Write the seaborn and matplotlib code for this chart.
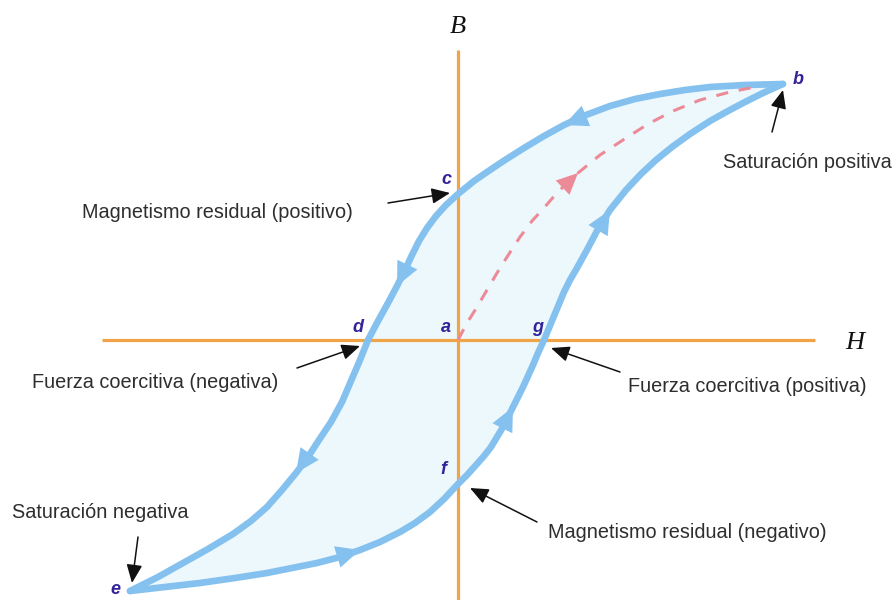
import numpy as np
import matplotlib.pyplot as plt
import seaborn as sns

# Hysteresis loop (1 unit = 100 px, origin at point a)
# descending branch b -> c -> d -> e
upper_h = [3.25, 2.87, 2.52, 2.27, 2.02, 1.77, 1.52, 1.28, 1.06, 0.86, 0.66, 0.47, 0.32,
           0.16, 0.00, -0.12, -0.22, -0.31, -0.39, -0.46, -0.53, -0.61, -0.70, -0.80,
           -0.90, -0.98, -1.07, -1.16, -1.27, -1.39, -1.50, -1.62, -1.76, -1.91, -2.07,
           -2.25, -2.50, -2.75, -3.00, -3.28]
upper_b = [2.56, 2.55, 2.53, 2.50, 2.46, 2.41, 2.34, 2.25, 2.15, 2.04, 1.92, 1.80, 1.70,
           1.59, 1.46, 1.35, 1.24, 1.12, 0.99, 0.85, 0.70, 0.54, 0.37, 0.19,
           0.00, -0.20, -0.41, -0.62, -0.82, -1.00, -1.17, -1.33, -1.50, -1.67, -1.81,
           -1.94, -2.09, -2.23, -2.37, -2.51]
# ascending branch e -> f -> g -> b
lower_h = [-3.28, -2.93, -2.58, -2.23, -1.91, -1.66, -1.41, -1.18, -0.98, -0.78, -0.58,
           -0.43, -0.28, -0.14, 0.00, 0.09, 0.18, 0.26, 0.33, 0.39, 0.45, 0.50, 0.55, 0.60,
           0.65, 0.70, 0.75, 0.80, 0.86, 0.91, 0.96, 1.01, 1.06, 1.12, 1.19, 1.30, 1.40,
           1.52, 1.68, 1.83, 1.98, 2.14, 2.32, 2.52, 2.70, 2.87, 3.05, 3.25]
lower_b = [-2.51, -2.47, -2.43, -2.38, -2.33, -2.28, -2.23, -2.17, -2.10, -2.02, -1.92,
           -1.83, -1.72, -1.59, -1.44, -1.35, -1.25, -1.16, -1.07, -0.97, -0.87, -0.77,
           -0.67, -0.57, -0.47, -0.36, -0.25, -0.13, 0.00, 0.12, 0.24, 0.36, 0.48, 0.60,
           0.72, 0.92, 1.11, 1.30, 1.50, 1.66, 1.80, 1.93, 2.06, 2.19, 2.29, 2.38, 2.47,
           2.56]
# first magnetisation curve a -> b
initial_h = [0.00, 0.09, 0.19, 0.29, 0.39, 0.49, 0.62, 0.74, 0.85, 0.98, 1.10, 1.20, 1.42,
             1.65, 1.90, 2.15, 2.42, 2.72, 3.02]
initial_b = [0.00, 0.17, 0.33, 0.50, 0.67, 0.83, 1.03, 1.19, 1.31, 1.46, 1.58, 1.67, 1.85,
             2.00, 2.16, 2.29, 2.40, 2.48, 2.54]

points = {"a": (0.0, 0.0), "b": (3.25, 2.56), "c": (0.0, 1.46), "d": (-0.90, 0.0),
          "e": (-3.28, -2.51), "f": (0.0, -1.44), "g": (0.86, 0.0)}

h_axis = (-3.56, 3.57)
b_axis = (-2.65, 2.90)

blue = "#84c1ef"
fill_col = "#ecf8fc"
orange = "#f0a447"
pink = "#ec8b97"
letter_col = "#33229a"
text_col = "#2e2e2e"

sns.set_theme(style="white")
plt.rcParams['font.family'] = ['Liberation Sans', 'DejaVu Sans']

fig = plt.figure(figsize=(8.96, 6.0), dpi=100)
ax = fig.add_axes([0, 0, 1, 1])
ax.set_xlim(-4.58, 4.38)
ax.set_ylim(-2.60, 3.40)
ax.axis('off')

# shaded interior of the loop
ax.fill(np.r_[upper_h, lower_h], np.r_[upper_b, lower_b], color=fill_col, lw=0, zorder=1)

# axes
ax.hlines(0, *h_axis, color=orange, lw=2.3, zorder=2)
ax.vlines(0, *b_axis, color=orange, lw=2.3, zorder=2)

# loop branches
for hs, bs in [(upper_h, upper_b), (lower_h, lower_b)]:
    sns.lineplot(x=hs, y=bs, sort=False, estimator=None, color=blue, lw=4.8,
                 solid_capstyle='round', solid_joinstyle='round', ax=ax, zorder=3)
sns.lineplot(x=initial_h, y=initial_b, sort=False, estimator=None, color=pink, lw=2.2,
             linestyle=(0, (4, 3.5)), ax=ax, zorder=3)


def head(hs, bs, i, color, scale=19):
    ax.annotate("", xy=(hs[i], bs[i]), xytext=(hs[i - 2], bs[i - 2]),
                arrowprops=dict(arrowstyle="-|>,head_length=0.9,head_width=0.42",
                                color=color, lw=0, mutation_scale=scale,
                                shrinkA=0, shrinkB=0), zorder=4)


for i in [8, 21, 31]:
    head(upper_h, upper_b, i, blue)
for i in [8, 22, 37]:
    head(lower_h, lower_b, i, blue)
head(initial_h, initial_b, 11, pink, scale=17)

# point letters
letter_off = {"a": (-0.12, 0.12), "b": (0.15, 0.05), "c": (-0.12, 0.14), "d": (-0.10, 0.13),
              "e": (-0.15, 0.01), "f": (-0.15, 0.14), "g": (-0.06, 0.13)}
for k, (dx, dy) in letter_off.items():
    x, y = points[k]
    ax.text(x + dx, y + dy, k, color=letter_col, fontsize=13, fontweight='bold',
            fontstyle='italic', ha='center', va='center', zorder=5)

# axis names
ax.text(0.0, 3.13, "B", family=['Liberation Serif', 'DejaVu Serif'], fontstyle='italic',
        fontsize=19, ha='center', va='center', color='#111111')
ax.text(3.97, -0.03, "H", family=['Liberation Serif', 'DejaVu Serif'], fontstyle='italic',
        fontsize=19, ha='center', va='center', color='#111111')

# explanatory notes: text, text position, arrow tail, arrow tip
notes = [
    ("Saturación positiva", (2.65, 1.77), (3.14, 2.08), (3.25, 2.50)),
    ("Magnetismo residual (positivo)", (-3.76, 1.27), (-0.70, 1.37), (-0.08, 1.47)),
    ("Fuerza coercitiva (negativa)", (-4.26, -0.43), (-1.61, -0.28), (-0.98, -0.06)),
    ("Fuerza coercitiva (positiva)", (1.70, -0.46), (1.62, -0.32), (0.93, -0.08)),
    ("Magnetismo residual (negativo)", (0.90, -1.92), (0.79, -1.82), (0.12, -1.48)),
    ("Saturación negativa", (-4.46, -1.72), (-3.20, -1.97), (-3.26, -2.43)),
]
for txt, pos, tail, tip in notes:
    ax.text(pos[0], pos[1], txt, fontsize=14.3, color=text_col, ha='left', va='center',
            zorder=5)
    ax.annotate("", xy=tip, xytext=tail,
                arrowprops=dict(arrowstyle="-|>,head_length=0.7,head_width=0.3",
                                color='#111111', lw=1.1, mutation_scale=16,
                                shrinkA=0, shrinkB=0), zorder=5)

fig.savefig("out.png", dpi=100)
